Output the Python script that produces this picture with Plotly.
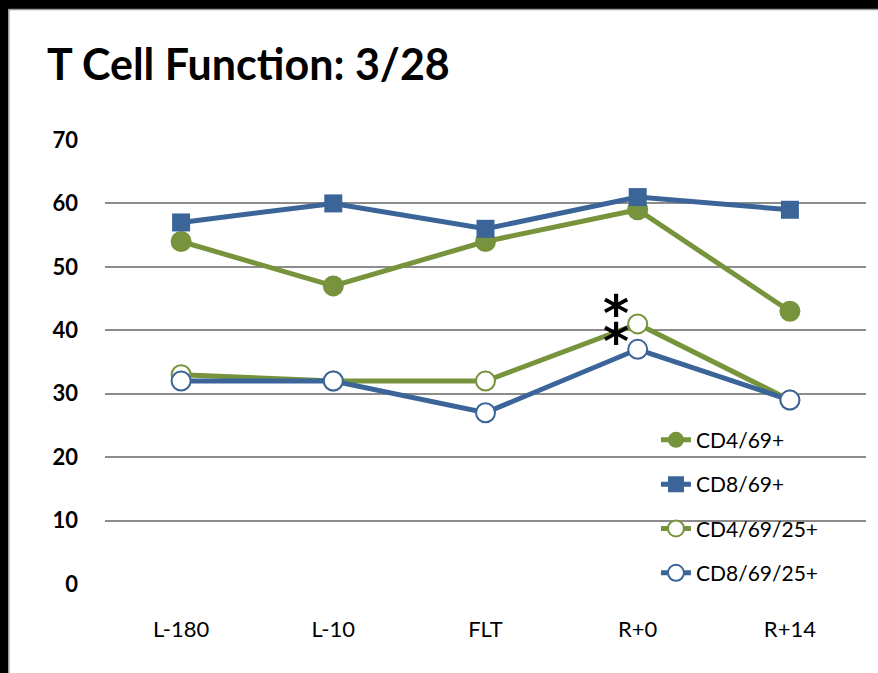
import plotly.graph_objects as go

categories = ["L-180", "L-10", "FLT", "R+0", "R+14"]
cd4_69 = [54, 47, 54, 59, 43]
cd8_69 = [57, 60, 56, 61, 59]
cd4_69_25 = [33, 32, 32, 41, 29]
cd8_69_25 = [32, 32, 27, 37, 29]
y_ticks = [0, 10, 20, 30, 40, 50, 60, 70]

GREEN = "#77933C"
BLUE = "#3B6499"
FONT = "Lato"

# plot-area pixel geometry helpers (for frame/decorations only)
L, R, T, B = 105, 12, 140, 89
W, H = 878, 673
PW, PH = W - L - R, H - T - B


def px(x):
    return (x - L) / PW


def py(y):
    return (H - B - y) / PH


fig = go.Figure()
series = [
    ("CD4/69+", cd4_69, GREEN, dict(symbol="circle", size=21, color=GREEN)),
    ("CD8/69+", cd8_69, BLUE, dict(symbol="square", size=18, color=BLUE)),
    ("CD4/69/25+", cd4_69_25, GREEN, dict(symbol="circle", size=19, color="white", line=dict(color=GREEN, width=2))),
    ("CD8/69/25+", cd8_69_25, BLUE, dict(symbol="circle", size=19, color="white", line=dict(color=BLUE, width=2))),
]
for i, (name, vals, col, mk) in enumerate(series):
    fig.add_trace(go.Scatter(
        x=categories, y=vals, name=name, mode="lines+markers",
        line=dict(color=col, width=5), marker=mk,
        legendgroup=f"g{i}",
    ))

fig.update_layout(
    width=W, height=H,
    margin=dict(l=L, r=R, t=T, b=B),
    paper_bgcolor="white", plot_bgcolor="white",
    showlegend=True,
    legend=dict(
        x=0.724, y=0.37, xanchor="left", yanchor="top",
        bgcolor="rgba(0,0,0,0)", borderwidth=0,
        font=dict(family=FONT, size=21, color="black"),
        traceorder="grouped", tracegroupgap=14,
    ),
    xaxis=dict(
        type="category", range=[-0.5, 4.5], showgrid=False, zeroline=False,
        showline=False, ticks="", ticklabelstandoff=30,
        tickfont=dict(family=FONT, size=22, color="black"),
    ),
    yaxis=dict(
        range=[0, 70], tickvals=y_ticks, showgrid=True, gridcolor="#8C8C8C",
        gridwidth=1.5, zeroline=False, showline=False, ticks="",
        ticklabelstandoff=26,
        tickfont=dict(family=FONT, size=22, color="black", weight="bold"),
    ),
    annotations=[
        dict(text="<b>T Cell Function: 3/28</b>", xref="paper", yref="paper",
             x=px(45), y=py(63), xanchor="left", yanchor="middle",
             showarrow=False, font=dict(family=FONT, size=43, color="black")),
        dict(text="<b>*</b>", x="R+0", y=42.6, xshift=-22, showarrow=False,
             font=dict(family="DejaVu Sans", size=50, color="black")),
        dict(text="<b>*</b>", x="R+0", y=38.1, xshift=-22, showarrow=False,
             font=dict(family="DejaVu Sans", size=50, color="black")),
    ],
    shapes=[
        dict(type="rect", xref="paper", yref="paper", x0=px(580), x1=px(870),
             y0=py(605), y1=py(418), fillcolor="white",
             line=dict(width=0), layer="between"),
        dict(type="rect", xref="paper", yref="paper", x0=px(0), x1=px(W),
             y0=py(9), y1=py(0), fillcolor="black", line=dict(width=0), layer="above"),
        dict(type="rect", xref="paper", yref="paper", x0=px(0), x1=px(8),
             y0=py(H), y1=py(0), fillcolor="black", line=dict(width=0), layer="above"),
        dict(type="line", xref="paper", yref="paper", x0=px(8.5), x1=px(W),
             y0=py(9.5), y1=py(9.5), line=dict(color="#999999", width=1.5)),
        dict(type="line", xref="paper", yref="paper", x0=px(8.8), x1=px(8.8),
             y0=py(H), y1=py(9), line=dict(color="#999999", width=1.5)),
    ],
)

fig.write_html("out.html", config={"displayModeBar": False},
               post_script="document.body.style.margin='0px';")
